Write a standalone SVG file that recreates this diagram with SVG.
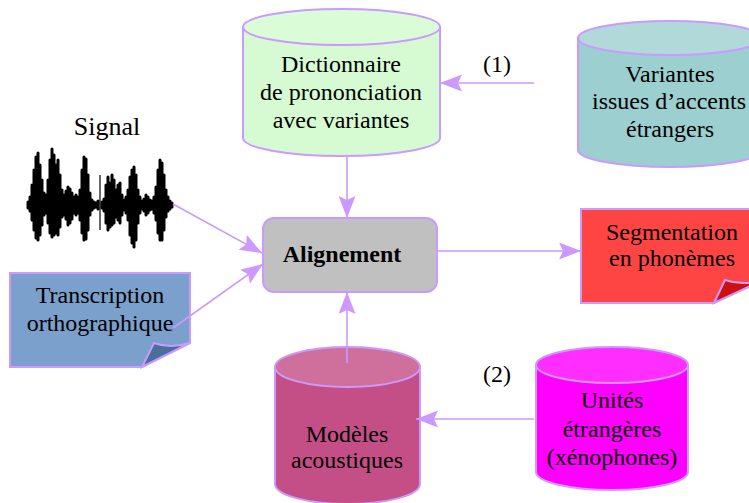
<svg xmlns="http://www.w3.org/2000/svg" width="749" height="503" viewBox="0 0 749 503">
<style>
.t{font-family:"Liberation Serif","Times New Roman",serif;font-size:24px;fill:#000;text-anchor:middle}
.b{font-weight:bold}
.s{stroke:#cc99ff;stroke-width:2}
.c{stroke:#cc99ff;stroke-width:1.6;fill:none}
</style>
<defs>
<marker id="ah" markerUnits="userSpaceOnUse" markerWidth="24" markerHeight="18" refX="22" refY="8.5" orient="auto">
<path d="M0,0 L22,8.5 L0,17 L4,8.5 Z" fill="#cc99ff"/>
</marker>
</defs>
<rect width="749" height="503" fill="#fff"/>

<g id="dictionnaire">
<path class="s" d="M243,27 V138 A98.5,18 0 0 0 440,138 V27 Z" fill="#d6fbd2"/>
<ellipse class="s" cx="341.5" cy="27" rx="98.5" ry="18" fill="#dafcd6"/>
<text class="t" x="341" y="72">Dictionnaire</text>
<text class="t" x="341" y="100">de prononciation</text>
<text class="t" x="341" y="128">avec variantes</text>
</g>

<g id="variantes">
<path class="s" d="M578,38 V150 A92,17 0 0 0 762,150 V38 Z" fill="#9ccfcf"/>
<ellipse class="s" cx="670" cy="38" rx="92" ry="17" fill="#b2d9d9"/>
<text class="t" x="670" y="82">Variantes</text>
<text class="t" x="669" y="109">issues d’accents</text>
<text class="t" x="670" y="137">étrangers</text>
</g>

<g id="label1"><text class="t" x="497" y="72">(1)</text></g>

<g id="signal">
<text class="t" x="107" y="135" style="font-size:26px">Signal</text>
<path stroke="#000" stroke-width="3" stroke-linecap="round" fill="none" d="M28,202V208 M30,197V211 M32,185V220 M34,170V230 M36,157V238 M38,153V240 M40,165V235 M42,180V225 M44,193V215 M46,195V213 M48,180V223 M50,160V233 M52,149V237 M54,155V235 M56,165V233 M58,160V235 M60,175V227 M62,190V217 M64,195V215 M66,191V219 M68,187V225 M70,189V223 M72,193V219 M74,197V213 M76,195V215 M78,197V213 M80,190V220 M82,170V233 M84,157V240 M86,159V239 M88,175V230 M90,193V215 M92,200V210 M94,202V208 M96,203V207 M98,201V209 M102,202V208 M104,199V211 M106,185V223 M108,177V230 M110,183V227 M112,175V225 M114,180V223 M116,190V217 M118,185V220 M120,183V223 M122,195V215 M124,200V210 M126,197V213 M128,190V220 M130,177V235 M132,170V243 M134,167V247 M136,175V240 M138,190V223 M140,197V213 M142,201V209 M144,199V211 M146,195V215 M148,197V213 M150,200V210 M152,201V209 M154,197V213 M156,187V220 M158,170V233 M160,160V240 M162,163V240 M164,175V230 M166,190V217 M168,197V211 M170,201V209 M172,203V207"/>
<path stroke="#000" stroke-width="1.2" fill="none" d="M100,175V230"/>
</g>

<g id="transcription">
<path class="s" d="M10,273 H190 V343 L142,367 H10 Z" fill="#7ba0cc"/>
<path class="s" d="M190,343 Q170,349 154,343 L142,367 Z" fill="#4a6f9c"/>
<text class="t" x="100" y="303">Transcription</text>
<text class="t" x="100" y="331">orthographique</text>
</g>

<g id="alignement">
<rect class="s" x="263" y="218" width="174" height="74" rx="11" fill="#c0c0c0"/>
<text class="t b" x="342" y="262">Alignement</text>
</g>

<g id="segmentation">
<path class="s" d="M581,209 H763 V280 L714,303 H581 Z" fill="#ff4444"/>
<path class="s" d="M763,280 Q742,286 725,280 L714,303 Z" fill="#cc1111"/>
<text class="t" x="672" y="240">Segmentation</text>
<text class="t" x="672" y="266">en phonèmes</text>
</g>

<g id="modeles">
<path class="s" d="M275,367 V484 A72.5,20 0 0 0 420,484 V367 Z" fill="#c44f86"/>
<ellipse class="s" cx="347.5" cy="367" rx="72.5" ry="20" fill="#cf709c"/>
<text class="t" x="347" y="442">Modèles</text>
<text class="t" x="347" y="468">acoustiques</text>
</g>

<g id="label2"><text class="t" x="497" y="382">(2)</text></g>

<g id="unites">
<path class="s" d="M536,365 V472 A76,18 0 0 0 688,472 V365 Z" fill="#ff00ff"/>
<ellipse class="s" cx="612" cy="365" rx="76" ry="18" fill="#ff2eff"/>
<text class="t" x="612" y="408">Unités</text>
<text class="t" x="612" y="437">étrangères</text>
<text class="t" x="612" y="465">(xénophones)</text>
</g>

<g id="connectors">
<line class="c" x1="347" y1="157" x2="347" y2="218" marker-end="url(#ah)"/>
<line class="c" x1="534" y1="83" x2="440" y2="83" marker-end="url(#ah)"/>
<line class="c" x1="173" y1="204" x2="262" y2="253" marker-end="url(#ah)"/>
<line class="c" x1="173" y1="328" x2="263" y2="264" marker-end="url(#ah)"/>
<line class="c" x1="437" y1="251" x2="581" y2="251" marker-end="url(#ah)"/>
<line class="c" x1="347" y1="363" x2="347" y2="292" marker-end="url(#ah)"/>
<line class="c" x1="534" y1="419" x2="416" y2="419" marker-end="url(#ah)"/>
</g>
</svg>
